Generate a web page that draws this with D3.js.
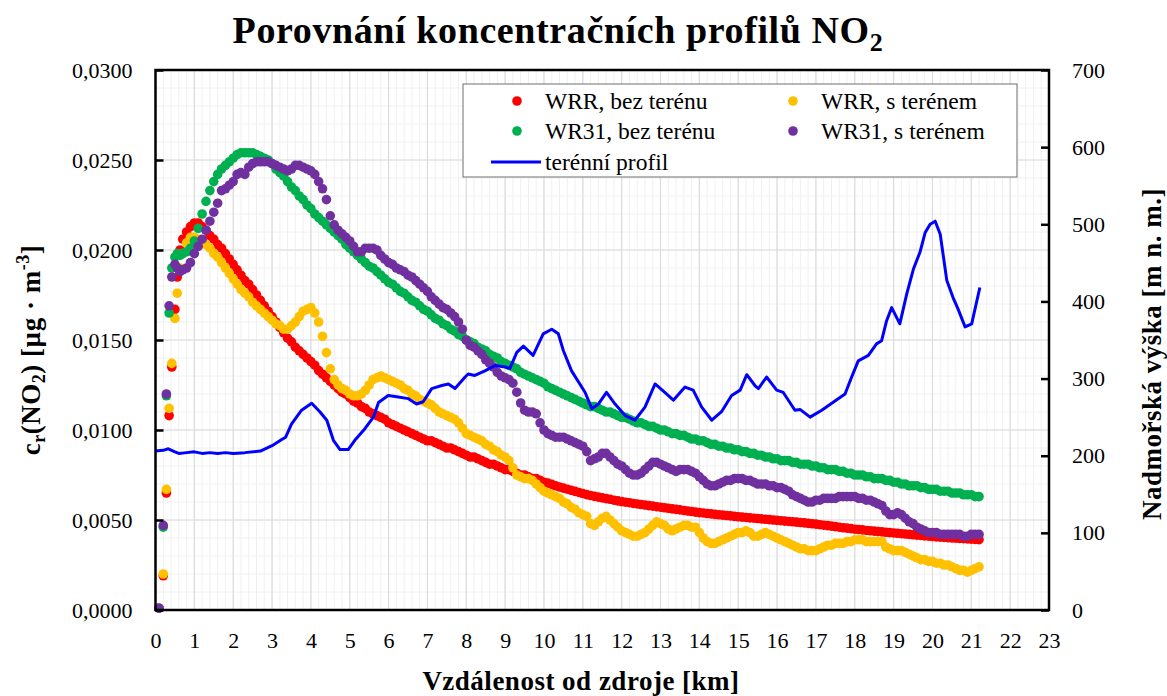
<!DOCTYPE html>
<html lang="cs">
<head>
<meta charset="UTF-8">
<title>Porovnání koncentračních profilů NO2</title>
<script src="https://d3js.org/d3.v7.min.js"></script>
<style>
  body { margin: 0; background: #fff; }
  svg { font-family: "Liberation Serif", "DejaVu Serif", serif; }
  .axis text { font-family: "Liberation Serif", serif; font-size: 22px; fill: #000; }
  .axis-title { font-size: 27px; font-weight: bold; fill: #000; letter-spacing: 0.5px; }
  .legend-text { font-size: 23.5px; fill: #000; }
</style>
</head>
<body>
<div id="chart"></div>
<script>
// distance from source [km]: first points are denser, then 0.1 km step
const distance = [0.09, 0.2, 0.28, 0.35, 0.42, 0.5, 0.56, 0.63, 0.7, 0.8, 0.9]
  .concat(d3.range(10, 213).map(i => i / 10));

// WRR, bez terénu
const wrrFlat = [
  0.0001, 0.0019, 0.0065, 0.0108, 0.0135, 0.0167, 0.0185, 0.0200, 0.0206, 0.0210, 0.0213,
  0.0215,
  0.0215, 0.0213, 0.0211, 0.0208, 0.0206, 0.0203, 0.0201, 0.0198, 0.0195, 0.0192,
  0.0189, 0.0186, 0.0183, 0.0181, 0.0178, 0.0175, 0.0172, 0.0169, 0.0166, 0.0163,
  0.0160, 0.0157, 0.0154, 0.0151, 0.0149, 0.0146, 0.0144, 0.0142, 0.0140, 0.0138,
  0.0136, 0.0133, 0.0131, 0.0129, 0.0127, 0.0125, 0.0123, 0.0121, 0.0120, 0.0118,
  0.0116, 0.0115, 0.0113, 0.0112, 0.0110, 0.0109, 0.0108, 0.0107, 0.0106, 0.0104,
  0.0103, 0.0102, 0.0101, 0.0100, 0.0099, 0.0098, 0.0097, 0.0096, 0.0095, 0.0094,
  0.0094, 0.0093, 0.0092, 0.0091, 0.0090, 0.0090, 0.0089, 0.0088, 0.0087, 0.0086,
  0.0085, 0.0085, 0.0084, 0.0083, 0.0082, 0.0081, 0.0081, 0.0080, 0.0079, 0.0078,
  0.0078, 0.0077, 0.0076, 0.0075, 0.0075, 0.0074, 0.0073, 0.0073, 0.0072, 0.0071,
  0.00705, 0.00698, 0.00690, 0.00683, 0.00677, 0.00671, 0.00665, 0.00659, 0.00653, 0.00647,
  0.00641, 0.00636, 0.00631, 0.00627, 0.00623, 0.00619, 0.00615, 0.00610, 0.00606, 0.00602,
  0.00599, 0.00596, 0.00592, 0.00589, 0.00586, 0.00583, 0.00580, 0.00577, 0.00574, 0.00571,
  0.00568, 0.00565, 0.00562, 0.00559, 0.00556, 0.00553, 0.00550, 0.00547, 0.00544, 0.00541,
  0.00539, 0.00536, 0.00534, 0.00531, 0.00529, 0.00527, 0.00525, 0.00523, 0.00520, 0.00518,
  0.00516, 0.00514, 0.00512, 0.00510, 0.00508, 0.00506, 0.00504, 0.00502, 0.00500, 0.00498,
  0.00496, 0.00494, 0.00492, 0.00490, 0.00488, 0.00486, 0.00484, 0.00481, 0.00479, 0.00477,
  0.00474, 0.00471, 0.00469, 0.00466, 0.00463, 0.00460, 0.00457, 0.00455, 0.00452, 0.00449,
  0.00447, 0.00445, 0.00442, 0.00440, 0.00438, 0.00436, 0.00434, 0.00432, 0.00430, 0.00428,
  0.00426, 0.00424, 0.00422, 0.00420, 0.00418, 0.00416, 0.00414, 0.00412, 0.00410, 0.00408,
  0.00406, 0.00405, 0.00403, 0.00402, 0.00400, 0.00399, 0.00398, 0.00396, 0.00395, 0.00394,
  0.00392, 0.00391
];

// WRR, s terénem
const wrrTerrain = [
  0.0001, 0.0020, 0.0067, 0.0112, 0.0137, 0.0162, 0.0176, 0.0190, 0.0198, 0.0204, 0.0207,
  0.0207,
  0.0206, 0.0205, 0.0203, 0.0201, 0.0198, 0.0196, 0.0193, 0.0190, 0.0187, 0.0184,
  0.0181, 0.0178, 0.0176, 0.0174, 0.0171, 0.0169, 0.0167, 0.0165, 0.0163, 0.0161,
  0.0159, 0.0158, 0.0156, 0.0156, 0.0158, 0.0160, 0.0163, 0.0166, 0.0167, 0.0168,
  0.0165, 0.0160, 0.0152, 0.0143, 0.0134, 0.0128, 0.0125, 0.0123, 0.0122, 0.0120,
  0.0119, 0.0119, 0.0120, 0.0122, 0.0125, 0.0128, 0.0129, 0.0130, 0.0129, 0.0128,
  0.0127, 0.0126, 0.0125, 0.0123, 0.0122, 0.0120, 0.0119, 0.0117, 0.0116, 0.0115,
  0.0114, 0.0112, 0.0110, 0.0109, 0.0108, 0.0107, 0.0106, 0.0104, 0.0101, 0.0098,
  0.0097, 0.0096, 0.0095, 0.0094, 0.0092, 0.0091, 0.0089, 0.0088, 0.0086, 0.0085,
  0.0083, 0.0079, 0.0075, 0.0074, 0.0073, 0.0073, 0.0072, 0.0070, 0.0068, 0.0066,
  0.0065, 0.0064, 0.0063, 0.0062, 0.0060, 0.0059, 0.0057, 0.0056, 0.0054, 0.0053,
  0.0052, 0.0048, 0.0047, 0.0049, 0.0051, 0.0052, 0.0050, 0.0048, 0.0046, 0.0044,
  0.0043, 0.0042, 0.0041, 0.0041, 0.0042, 0.0043, 0.0045, 0.0047, 0.0049, 0.0048,
  0.0047, 0.0045, 0.0044, 0.0045, 0.0046, 0.0047, 0.0047, 0.0046, 0.0046, 0.0043,
  0.0040, 0.0038, 0.0037, 0.0037, 0.0038, 0.0039, 0.0040, 0.0041, 0.0042, 0.0043,
  0.0043, 0.0044, 0.0043, 0.0041, 0.0041, 0.0042, 0.0043, 0.0042, 0.0041, 0.0040,
  0.0039, 0.0038, 0.0037, 0.0036, 0.0035, 0.0034, 0.0034, 0.0033, 0.0033, 0.0033,
  0.0034, 0.0035, 0.0036, 0.0036, 0.0037, 0.0037, 0.0037, 0.0038, 0.0038, 0.0039,
  0.0039, 0.0039, 0.0038, 0.0038, 0.0038, 0.0038, 0.0038, 0.0035, 0.0034, 0.0033,
  0.0033, 0.0033, 0.0032, 0.0031, 0.0030, 0.0029, 0.0028, 0.0028, 0.0027, 0.0027,
  0.0026, 0.0026, 0.0025, 0.0025, 0.0024, 0.0023, 0.0022, 0.0022, 0.0021, 0.0022,
  0.0023, 0.0024
];

// WR31, bez terénu
const wr31Flat = [
  0.0001, 0.0046, 0.0119, 0.0165, 0.0190, 0.0196, 0.0198, 0.0197, 0.0198, 0.0199, 0.0201,
  0.0205,
  0.0212, 0.0220, 0.0227, 0.0233, 0.0238, 0.0242, 0.0245, 0.0247, 0.0249, 0.0251,
  0.0253, 0.0254, 0.0254, 0.0254, 0.0254, 0.0253, 0.0252, 0.0251, 0.0250, 0.0248,
  0.0245, 0.0243, 0.0241, 0.0238, 0.0235, 0.0233, 0.0230, 0.0228, 0.0225, 0.0223,
  0.0220, 0.0218, 0.0216, 0.0214, 0.0212, 0.0210, 0.0208, 0.0206, 0.0203, 0.0201,
  0.0199, 0.0197, 0.0195, 0.0193, 0.0191, 0.0190, 0.0188, 0.0186, 0.0184, 0.0182,
  0.0181, 0.0179, 0.0177, 0.0176, 0.0174, 0.0172, 0.0171, 0.0169, 0.0167, 0.0166,
  0.0164, 0.0162, 0.0161, 0.0159, 0.0158, 0.0156, 0.0155, 0.0153, 0.0152, 0.0150,
  0.0149, 0.0148, 0.0146, 0.0145, 0.0144, 0.0142, 0.0141, 0.0140, 0.0138, 0.0137,
  0.0136, 0.0135, 0.0134, 0.0132, 0.0131, 0.0130, 0.0129, 0.0128, 0.0127, 0.0126,
  0.0124, 0.0123, 0.0122, 0.0121, 0.0120, 0.0119, 0.0118, 0.0117, 0.0116, 0.0115,
  0.0114, 0.0113, 0.0113, 0.0112, 0.0111, 0.0110, 0.0110, 0.0109, 0.0108, 0.0107,
  0.0107, 0.0106, 0.0105, 0.0104, 0.0104, 0.0103, 0.0102, 0.0102, 0.0101, 0.0100,
  0.0100, 0.0099, 0.0098, 0.0098, 0.0097, 0.0097, 0.0096, 0.0095, 0.0095, 0.0094,
  0.0094, 0.0093, 0.0092, 0.0092, 0.0091, 0.0091, 0.0090, 0.0090, 0.0089, 0.0089,
  0.0088, 0.0088, 0.0087, 0.0087, 0.0086, 0.0086, 0.0085, 0.0085, 0.0084, 0.0084,
  0.0083, 0.0083, 0.0083, 0.0082, 0.0082, 0.0081, 0.0081, 0.0081, 0.0080, 0.0080,
  0.0079, 0.0079, 0.0078, 0.0078, 0.0078, 0.0077, 0.0077, 0.0076, 0.0076, 0.0075,
  0.0075, 0.0075, 0.0074, 0.0074, 0.0073, 0.0073, 0.0073, 0.0072, 0.0072, 0.0071,
  0.0071, 0.0070, 0.0070, 0.0069, 0.0069, 0.0069, 0.0068, 0.0068, 0.0067, 0.0067,
  0.0067, 0.0066, 0.0066, 0.0066, 0.0065, 0.0065, 0.0065, 0.0064, 0.0064, 0.0064,
  0.0063, 0.0063
];

// WR31, s terénem
const wr31Terrain = [
  0.0001, 0.0047, 0.0120, 0.0169, 0.0185, 0.0192, 0.0190, 0.0188, 0.0189, 0.0190, 0.0193,
  0.0198,
  0.0202, 0.0206, 0.0211, 0.0216, 0.0221, 0.0226, 0.0233, 0.0234, 0.0236, 0.0238,
  0.0242, 0.0243, 0.0242, 0.0246, 0.0248, 0.0249, 0.0249, 0.0249, 0.0249, 0.0248,
  0.0247, 0.0246, 0.0245, 0.0244, 0.0245, 0.0247, 0.0247, 0.0246, 0.0245, 0.0244,
  0.0242, 0.0238, 0.0234, 0.0228, 0.0219, 0.0214, 0.0211, 0.0209, 0.0207, 0.0205,
  0.0202, 0.0199, 0.0199, 0.0201, 0.0201, 0.0201, 0.0200, 0.0197, 0.0195, 0.0193,
  0.0192, 0.0190, 0.0189, 0.0188, 0.0186, 0.0185, 0.0183, 0.0181, 0.0179, 0.0177,
  0.0174, 0.0172, 0.0170, 0.0168, 0.0167, 0.0165, 0.0163, 0.0160, 0.0156, 0.0150,
  0.0147, 0.0146, 0.0144, 0.0142, 0.0139, 0.0137, 0.0135, 0.0132, 0.0130, 0.0129,
  0.0128, 0.0126, 0.0121, 0.0115, 0.0111, 0.0110, 0.0110, 0.0109, 0.0104, 0.0100,
  0.0098, 0.0097, 0.0096, 0.0096, 0.0096, 0.0095, 0.0094, 0.0093, 0.0092, 0.0091,
  0.0088, 0.0083, 0.0084, 0.0085, 0.0087, 0.0087, 0.0085, 0.0083, 0.0081, 0.0080,
  0.0078, 0.0076, 0.0075, 0.0075, 0.0076, 0.0078, 0.0080, 0.0082, 0.0082, 0.0081,
  0.0080, 0.0079, 0.0078, 0.0077, 0.0078, 0.0078, 0.0078, 0.0077, 0.0076, 0.0074,
  0.0072, 0.0070, 0.0069, 0.0069, 0.0070, 0.0071, 0.0072, 0.0072, 0.0073, 0.0073,
  0.0073, 0.0072, 0.0072, 0.0071, 0.0070, 0.0070, 0.0070, 0.0069, 0.0069, 0.0068,
  0.0068, 0.0067, 0.0066, 0.0064, 0.0063, 0.0062, 0.0061, 0.0060, 0.0060, 0.0061,
  0.0061, 0.0062, 0.0062, 0.0062, 0.0062, 0.0063, 0.0063, 0.0063, 0.0063, 0.0063,
  0.0062, 0.0062, 0.0061, 0.0061, 0.0060, 0.0059, 0.0058, 0.0055, 0.0053, 0.0053,
  0.0054, 0.0053, 0.0051, 0.0049, 0.0048, 0.0046, 0.0045, 0.0044, 0.0043, 0.0043,
  0.0043, 0.0042, 0.0042, 0.0042, 0.0042, 0.0042, 0.0042, 0.0041, 0.0041, 0.0042,
  0.0042, 0.0042
];

// terénní profil (right axis)
const terrainKm = [
  0.0, 0.2, 0.33, 0.5, 0.6, 0.8, 1.0, 1.2, 1.4, 1.6, 1.8, 2.0, 2.3, 2.7, 3.0, 3.25, 3.35, 3.5, 3.76,
  4.02, 4.23, 4.41, 4.58, 4.75, 4.96, 5.13, 5.39, 5.61, 5.74, 5.99, 6.25, 6.51, 6.72, 6.89, 7.11,
  7.37, 7.54, 7.71, 7.97, 8.05, 8.22, 8.48, 8.74, 9.0, 9.12, 9.3, 9.47, 9.72, 9.98, 10.2, 10.37,
  10.5, 10.71, 11.06, 11.23, 11.4, 11.61, 11.83, 12.09, 12.34, 12.6, 12.86, 13.11, 13.33, 13.63,
  13.84, 14.06, 14.32, 14.57, 14.83, 15.05, 15.22, 15.43, 15.52, 15.73, 15.99, 16.16, 16.46,
  16.59, 16.85, 17.15, 17.49, 17.75, 17.92, 18.09, 18.35, 18.56, 18.69, 18.82, 18.95, 19.16,
  19.34, 19.51, 19.68, 19.81, 19.94, 20.07, 20.2, 20.37, 20.53, 20.66, 20.84, 21.01, 21.22
];
const terrainElev = [
  206, 207, 209, 205, 203, 204, 205, 203, 204, 203, 204, 203, 204, 206, 213, 221, 224, 241, 259,
  268, 257, 246, 220, 208, 208, 220, 235, 250, 269, 278, 276, 274, 267, 270, 287,
  291, 293, 287, 302, 306, 304, 310, 317, 315, 313, 334, 342, 330, 358, 364, 358,
  336, 310, 282, 261, 267, 282, 267, 252, 246, 263, 293, 282, 272, 289,
  285, 263, 246, 257, 278, 285, 305, 291, 287, 302, 285, 282, 259,
  260, 250, 259, 271, 280, 302, 323, 330, 345, 349, 375, 392, 371,
  410, 442, 464, 489, 500, 504, 487, 427, 405, 390, 367, 371, 418
];

const xTicks = d3.range(0, 24);
const cTicks = [0, 0.005, 0.01, 0.015, 0.02, 0.025, 0.03];
const elevTicks = [0, 100, 200, 300, 400, 500, 600, 700];

const seriesNames = ["WRR, bez terénu", "WRR, s terénem", "WR31, bez terénu", "WR31, s terénem"];
const seriesColors = ["#ff0000", "#ffc000", "#00b050", "#7030a0"];
const seriesValues = [wrrFlat, wrrTerrain, wr31Flat, wr31Terrain];

const width = 1167, height = 696;
const plot = {left: 155.5, right: 1049, top: 70, bottom: 610};

const svg = d3.select("#chart").append("svg")
  .attr("width", width).attr("height", height);

const x = d3.scaleLinear().domain([0, 23]).range([plot.left, plot.right]);
const yC = d3.scaleLinear().domain([0, 0.03]).range([plot.bottom, plot.top]);
const yE = d3.scaleLinear().domain([0, 700]).range([plot.bottom, plot.top]);

// grid
const grid = svg.append("g");
grid.selectAll(".vminor").data(d3.range(0, 116).map(i => i / 5)).enter().append("line")
  .attr("x1", d => x(d)).attr("x2", d => x(d)).attr("y1", plot.top).attr("y2", plot.bottom)
  .attr("stroke", "#f0f0f0").attr("stroke-width", 1);
grid.selectAll(".hminor").data(d3.range(0, 31).map(i => i / 1000)).enter().append("line")
  .attr("x1", plot.left).attr("x2", plot.right).attr("y1", d => yC(d)).attr("y2", d => yC(d))
  .attr("stroke", "#f0f0f0").attr("stroke-width", 1);
grid.selectAll(".vmajor").data(xTicks).enter().append("line")
  .attr("x1", d => x(d)).attr("x2", d => x(d)).attr("y1", plot.top).attr("y2", plot.bottom)
  .attr("stroke", "#dcdcdc").attr("stroke-width", 1.2);
grid.selectAll(".hmajor").data(cTicks).enter().append("line")
  .attr("x1", plot.left).attr("x2", plot.right).attr("y1", d => yC(d)).attr("y2", d => yC(d))
  .attr("stroke", "#dcdcdc").attr("stroke-width", 1.2);

// scatter series
seriesValues.forEach((vals, si) => {
  svg.append("g").selectAll("circle")
    .data(vals.map((v, i) => [distance[i], v]))
    .enter().append("circle")
    .attr("cx", d => x(d[0]))
    .attr("cy", d => yC(d[1]))
    .attr("r", 4.8)
    .attr("fill", seriesColors[si]);
});

// terrain line
const terrain = terrainKm.map((k, i) => [k, terrainElev[i]]);
svg.append("path").datum(terrain)
  .attr("fill", "none").attr("stroke", "#0000ff").attr("stroke-width", 3)
  .attr("stroke-linejoin", "round")
  .attr("d", d3.line().x(d => x(d[0])).y(d => yE(d[1])));

// axes
const fmtC = d => d.toFixed(4).replace(".", ",");
svg.append("g").attr("class", "axis")
  .attr("transform", `translate(${plot.left},0)`)
  .call(d3.axisLeft(yC).tickValues(cTicks).tickFormat(fmtC).tickSize(-8).tickPadding(23))
  .call(g => g.select(".domain").remove())
  .call(g => g.selectAll(".tick line").attr("stroke", "#000").attr("stroke-width", 2.5));

svg.append("g").attr("class", "axis")
  .attr("transform", `translate(${plot.right},0)`)
  .call(d3.axisRight(yE).tickValues(elevTicks).tickSize(-8).tickPadding(23))
  .call(g => g.select(".domain").remove())
  .call(g => g.selectAll(".tick line").attr("stroke", "#000").attr("stroke-width", 2.5));

svg.append("g").attr("class", "axis")
  .attr("transform", `translate(0,${plot.bottom})`)
  .call(d3.axisBottom(x).tickValues(xTicks).tickSize(0).tickPadding(22))
  .call(g => g.select(".domain").remove());

svg.selectAll(".axis text").attr("font-family", null).attr("font-size", null);

// frame
svg.append("rect")
  .attr("x", plot.left).attr("y", plot.top)
  .attr("width", plot.right - plot.left).attr("height", plot.bottom - plot.top)
  .attr("fill", "none").attr("stroke", "#000").attr("stroke-width", 2.5);

// legend
const lg = svg.append("g");
lg.append("rect").attr("x", 463).attr("y", 84).attr("width", 554).attr("height", 93)
  .attr("fill", "#fff").attr("stroke", "#6e6e6e").attr("stroke-width", 1);
const legendPos = [[517, 101], [793, 101], [517, 131], [793, 131]];
seriesNames.forEach((name, i) => {
  const [lx, ly] = legendPos[i];
  lg.append("circle").attr("cx", lx).attr("cy", ly).attr("r", 4.8).attr("fill", seriesColors[i]);
  lg.append("text").attr("class", "legend-text").attr("x", lx + 28).attr("y", ly + 7.5).text(name);
});
lg.append("line").attr("x1", 491).attr("x2", 541).attr("y1", 162).attr("y2", 162)
  .attr("stroke", "#0000ff").attr("stroke-width", 3);
lg.append("text").attr("class", "legend-text").attr("x", 545).attr("y", 169.5).text("terénní profil");

// title
const title = svg.append("text").attr("x", 558).attr("y", 43)
  .attr("text-anchor", "middle").attr("font-size", 38).attr("font-weight", "bold")
  .attr("letter-spacing", "0.6px");
title.append("tspan").text("Porovnání koncentračních profilů NO");
title.append("tspan").attr("font-size", 26).attr("dy", 8).text("2");

// axis titles
svg.append("text").attr("class", "axis-title").attr("x", 581).attr("y", 690)
  .attr("text-anchor", "middle").text("Vzdálenost od zdroje [km]");

const yl = svg.append("text").attr("class", "axis-title")
  .attr("transform", "translate(40,350) rotate(-90)").attr("text-anchor", "middle");
yl.append("tspan").text("c");
yl.append("tspan").attr("font-size", 18).attr("dy", 5).text("r");
yl.append("tspan").attr("dy", -5).text("(NO");
yl.append("tspan").attr("font-size", 18).attr("dy", 5).text("2");
yl.append("tspan").attr("dy", -5).text(") [µg · m");
yl.append("tspan").attr("font-size", 18).attr("dy", -11).text("-3");
yl.append("tspan").attr("dy", 11).text("]");

svg.append("text").attr("class", "axis-title")
  .attr("transform", "translate(1161,354) rotate(-90)").attr("text-anchor", "middle")
  .attr("letter-spacing", "0.9px")
  .text("Nadmořská výška [m n. m.]");
</script>
</body>
</html>
